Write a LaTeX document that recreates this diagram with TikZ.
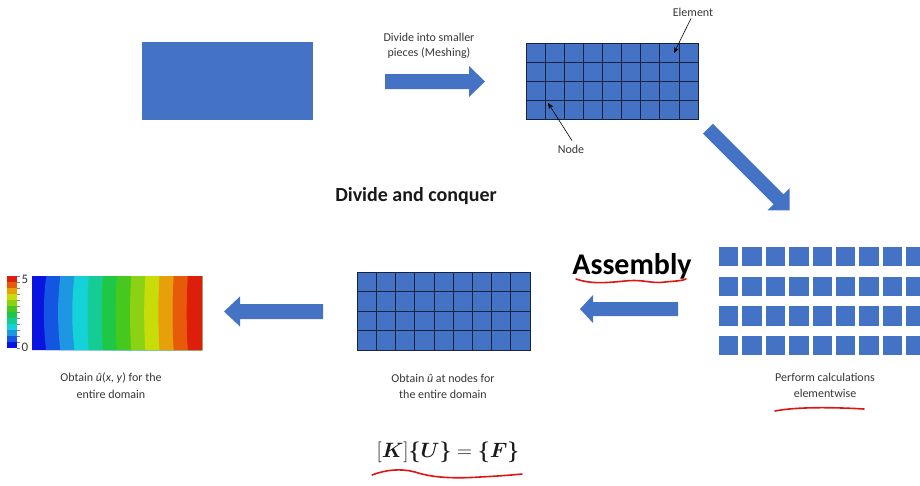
\documentclass[tikz,border=0pt]{standalone}
\usepackage{amsmath}
\usepackage[no-math]{fontspec}
\setmainfont{Carlito}
\usetikzlibrary{arrows.meta}
\definecolor{blockblue}{RGB}{68,114,196}
\definecolor{meshline}{RGB}{25,35,60}
\definecolor{txtgray}{RGB}{55,55,55}
\definecolor{penred}{RGB}{225,20,20}
\definecolor{c0}{RGB}{10,20,225}
\definecolor{c1}{RGB}{20,85,225}
\definecolor{c2}{RGB}{30,150,225}
\definecolor{c3}{RGB}{20,210,215}
\definecolor{c4}{RGB}{20,205,150}
\definecolor{c5}{RGB}{30,200,70}
\definecolor{c6}{RGB}{70,200,30}
\definecolor{c7}{RGB}{140,210,20}
\definecolor{c8}{RGB}{200,220,10}
\definecolor{c9}{RGB}{230,160,10}
\definecolor{c10}{RGB}{230,90,10}
\definecolor{c11}{RGB}{220,30,10}
\newcommand{\stiffeq}{$\mathbf{[}\boldsymbol{K}\mathbf{]}\boldsymbol{\{U\}}=\boldsymbol{\{F\}}$}
\tikzset{
  pics/barrow/.style args={#1/#2/#3/#4}{code={
    \fill[blockblue] (0,-#2) -- ({#1-#4},-#2) -- ({#1-#4},-#3) -- (#1,0)
      -- ({#1-#4},#3) -- ({#1-#4},#2) -- (0,#2) -- cycle;}},
  smalltxt/.style={text=txtgray, font=\fontsize{12}{15.5}\selectfont, align=center, inner sep=0pt},
  blockrect/.style={fill=blockblue, draw=none, inner sep=0pt, anchor=north west},
  pointer/.style={black, line width=0.6pt, -{Stealth[length=6pt,width=5pt]}},
  redpen/.style={penred, line width=1.6pt, line cap=round},
}
\begin{document}
\begin{tikzpicture}[x=1pt,y=-1pt]
\useasboundingbox[fill=white] (0,0) rectangle (920,485);

% domain
\node[blockrect, minimum width=171pt, minimum height=78pt] (dom) at (142,42) {};

% meshing arrow + text
\pic (a1) at (385,81.5) {barrow={100/7.5/15.5/16}};
\node[smalltxt] (meshtxt) at (429,46) {Divide into smaller\\pieces (Meshing)};

% top mesh
\node[blockrect, minimum width=172pt, minimum height=76pt] (mesh1) at (526,43) {};
\draw[meshline, line width=0.7pt] (526,43) rectangle (698,119);
\foreach \i in {1,...,8} \draw[meshline, line width=0.6pt] ({526+\i*172/9},43) -- ({526+\i*172/9},119);
\foreach \j in {1,2,3} \draw[meshline, line width=0.6pt] (526,{43+\j*19}) -- (698,{43+\j*19});

\node[smalltxt] (elemlbl) at (693,12) {Element};
\coordinate (elemtip) at (674,53);
\draw[pointer] (elemlbl.south) ++(-2,2) -- (elemtip);
\node[smalltxt] (nodelbl) at (571,149) {Node};
\coordinate (nodetip) at (548,103);
\draw[pointer] (nodelbl.north) ++(1,-4) -- (nodetip);

% diagonal arrow
\pic[rotate=-45] (a2) at (708,128.7) {barrow={115.5/7/15.5/15.6}};

% title
\node[text=black!90, font=\fontsize{20}{24}\selectfont\bfseries, inner sep=0pt] (title) at (416,196) {Divide and conquer};

% elementwise squares
\begin{scope}
\clip (0,0) rectangle (920,485);
\foreach \r in {0,1,2,3}
  \foreach \c in {0,...,8}
    \fill[blockblue] ({719+\c*23.4},{247+\r*29.6}) rectangle ++(19.4,19.3);
\end{scope}
\node[smalltxt] (elemtxt1) at (825,377) {Perform calculations};
\node[smalltxt] (elemtxt2) at (825,393) {elementwise};
\draw[redpen] (775,411) .. controls (795,407) and (830,407) .. (864,409);

% assembly
\node[text=black, font=\fontsize{30}{34}\selectfont\bfseries, inner sep=0pt] (asm) at (632,266) {Assembly};
\draw[redpen] (576,279) .. controls (590,284) and (605,283) .. (625,281)
  .. controls (645,279) and (650,284) .. (665,282) .. controls (675,281) and (682,281) .. (686,279);
\pic[rotate=180] (a3) at (678,309) {barrow={98/7/14/13}};

% middle mesh
\node[blockrect, minimum width=173pt, minimum height=78pt] (mesh2) at (357,272) {};
\draw[meshline, line width=0.7pt] (357,272) rectangle (530,350);
\foreach \i in {1,...,8} \draw[meshline, line width=0.6pt] ({357+\i*173/9},272) -- ({357+\i*173/9},350);
\foreach \j in {1,2,3} \draw[meshline, line width=0.6pt] (357,{272+\j*19.5}) -- (530,{272+\j*19.5});
\node[smalltxt] (midtxt1) at (443,378) {Obtain \textit{û} at nodes for};
\node[smalltxt] (midtxt2) at (443,394) {the entire domain};

\pic[rotate=180] (a4) at (323,311.5) {barrow={99/7.5/15/16}};

% contour plot
\foreach \k in {0,...,11}{
  \pgfmathsetmacro{\xb}{32+\k*170/12}
  \pgfmathsetmacro{\bend}{\k==0 ? 0 : (\k<4 ? 3 : 1.5)}
  \fill[c\k] (\xb,276) .. controls ({\xb-\bend},300) and ({\xb-\bend},326) .. (\xb,350) -- (202,350) -- (202,276) -- cycle;
}
\node[inner sep=0pt, minimum width=170pt, minimum height=74pt, anchor=north west] (cont) at (32,276) {};
% colorbar
\foreach \k in {0,...,11}{
  \fill[c\k] (7,{348-\k*6}) rectangle (17,{348-(\k+1)*6});
}
\foreach \k in {0,...,12} \draw[gray, line width=0.5pt] (17,{348-\k*6}) -- (20,{348-\k*6});
\node[text=txtgray, font=\fontsize{13}{14}\selectfont, inner sep=0pt] (five) at (25,279) {5};
\node[text=txtgray, font=\fontsize{13}{14}\selectfont, inner sep=0pt] (zero) at (25,347) {0};
\node[smalltxt] (lefttxt1) at (111,378) {Obtain \textit{û}(\textit{x}, \textit{y}) for the};
\node[smalltxt] (lefttxt2) at (111,394) {entire domain};

% equation
\node[text=black!90, font=\fontsize{22}{26}\selectfont, inner sep=0pt] (eqn) at (448,452) {\stiffeq};
\draw[redpen] (372,475) .. controls (385,470) and (400,468) .. (415,472)
  .. controls (430,477) and (450,479) .. (480,477) .. controls (500,476) and (512,475) .. (522,474);
\end{tikzpicture}
\end{document}
